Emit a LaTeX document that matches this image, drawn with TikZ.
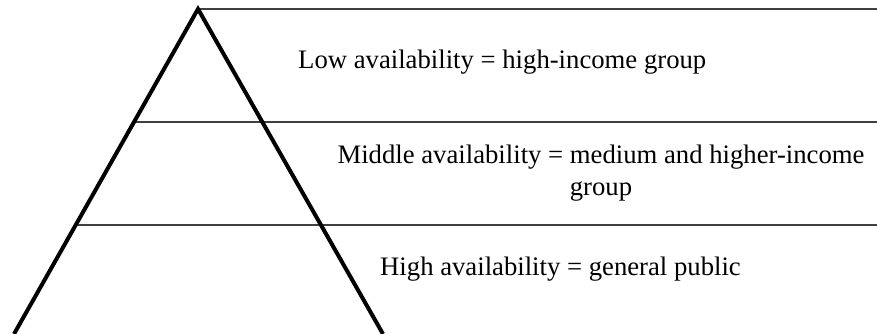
\documentclass[tikz,border=0pt]{standalone}
\usepackage{fontspec}
\setmainfont{Liberation Serif}
\usetikzlibrary{calc}

\begin{document}
\begin{tikzpicture}[
        x=1pt, y=-1pt,
        % Style for the pyramid and the level lines
        pyramid/.style={line width=4pt, line join=miter},
        levelline/.style={line width=1.1pt, draw=black!75},
        % Style for the level labels
        levellabel/.style={inner sep=0pt, font=\fontsize{26.7}{32}\selectfont, align=center}
    ]
    \useasboundingbox (0, 0) rectangle (877, 334);

    % Pyramid corners
    \coordinate (apex) at (198, 9);
    \coordinate (baseleft) at (14, 334);
    \coordinate (baseright) at (383, 334);
    \coordinate (cut1) at ($(apex)!0.3477!(baseleft)$);
    \coordinate (cut2) at ($(apex)!0.6646!(baseleft)$);

    % Level lines
    \draw[levelline] (apex) -- (877, 9) coordinate (end0);
    \draw[levelline] (cut1) -- (cut1 -| end0);
    \draw[levelline] (cut2) -- (cut2 -| end0);

    % Pyramid
    \draw[pyramid] (baseleft) -- (apex) -- (baseright);

    % Level labels
    \node[levellabel, anchor=base west] at (298, 69) (low) {Low availability = high-income group};
    \node[levellabel, anchor=base] at (601, 195) (middle) {Middle availability = medium and higher-income\\group};
    \node[levellabel, anchor=base west] at (380, 275) (high) {High availability = general public};
\end{tikzpicture}
\end{document}
